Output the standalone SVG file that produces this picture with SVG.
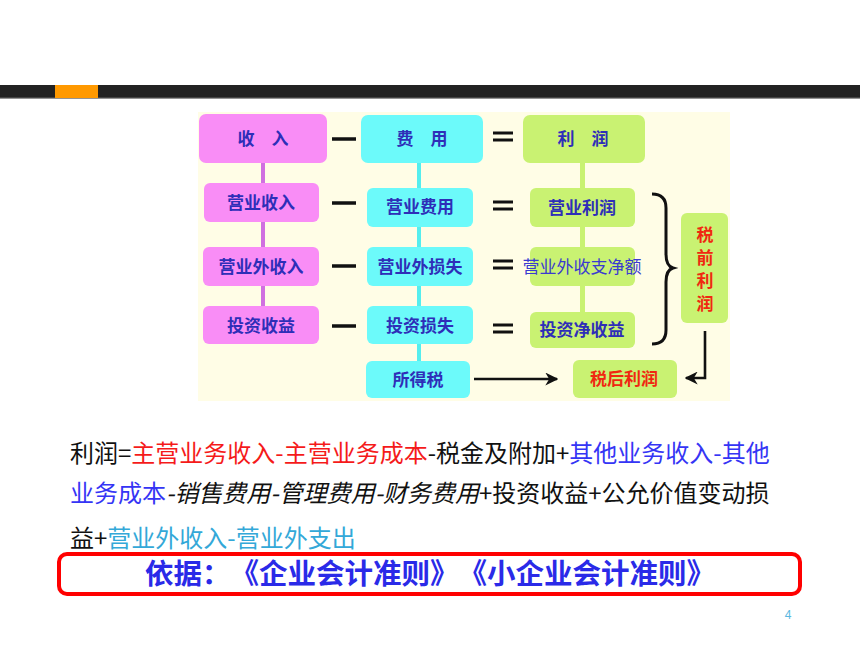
<svg xmlns="http://www.w3.org/2000/svg" width="860" height="645" viewBox="0 0 860 645">
<style>
.bt{font-family:"Noto Sans CJK SC","Liberation Sans",sans-serif;font-weight:bold;font-size:17px;fill:#2E2EB8;text-anchor:middle}
.pk{fill:#F98DF6}
.cy{fill:#6CFAFA}
.lm{fill:#C9F272}
.op{stroke:#111;stroke-width:3.5;fill:none}
.f{font-family:"Noto Sans CJK SC","Liberation Sans",sans-serif;font-size:24px;fill:#111}
.red{fill:#F51A1A}
.blu{fill:#3535F5}
.cya{fill:#33A8D8}
.basis{font-family:"Noto Sans CJK SC",sans-serif;font-weight:bold;font-size:28.5px;fill:#2A2AE8;text-spacing-trim:space-all}
</style>
<defs>
<marker id="ah" viewBox="0 0 10 10" refX="9" refY="5" markerWidth="5" markerHeight="5" orient="auto" markerUnits="strokeWidth">
<path d="M0,0 L10,5 L0,10 L3,5 Z" fill="#111"/>
</marker>
</defs>
<rect width="860" height="645" fill="#fff"/>
<!-- top bar -->
<rect x="0" y="85" width="860" height="13" fill="#222"/>
<rect x="0" y="97.5" width="860" height="1.2" fill="#666"/>
<rect x="55" y="85" width="43" height="13" fill="#FF9900"/>
<!-- diagram background -->
<rect x="198" y="112" width="532" height="289" fill="#FFFDE6"/>

<g id="connectors">
<rect x="261" y="163" width="4" height="144" fill="#D070E0"/>
<rect x="417" y="163" width="4" height="199" fill="#55EEEE"/>
<rect x="580" y="163" width="5" height="150" fill="#C9F272"/>
<!-- minus signs -->
<line class="op" x1="332" y1="139" x2="356" y2="139"/>
<line class="op" x1="332" y1="203" x2="356" y2="203"/>
<line class="op" x1="332" y1="266" x2="356" y2="266"/>
<line class="op" x1="332" y1="326" x2="356" y2="326"/>
<!-- equals signs -->
<g stroke="#111" stroke-width="3">
<line x1="493" y1="133" x2="513" y2="133"/><line x1="493" y1="140" x2="513" y2="140"/>
<line x1="493" y1="202" x2="513" y2="202"/><line x1="493" y1="209" x2="513" y2="209"/>
<line x1="493" y1="261" x2="513" y2="261"/><line x1="493" y1="268" x2="513" y2="268"/>
<line x1="493" y1="325" x2="513" y2="325"/><line x1="493" y1="332" x2="513" y2="332"/>
</g>
<!-- brace -->
<path d="M652,194 Q666,194 666,208 L666,254 Q666,266 673,268 Q666,270 666,282 L666,330 Q666,344 652,344" fill="none" stroke="#111" stroke-width="3"/>
<!-- arrows -->
<line x1="474" y1="379" x2="557" y2="379" stroke="#111" stroke-width="2.6" marker-end="url(#ah)"/>
<path d="M705,331 L705,378 L686,378" fill="none" stroke="#111" stroke-width="2.6" marker-end="url(#ah)"/>
</g>

<g id="n-shouru"><rect class="pk" x="199" y="114" width="128" height="49" rx="7"/><text class="bt" x="263" y="145">收　入</text></g>
<g id="n-feiyong"><rect class="cy" x="361" y="115" width="122" height="48" rx="7"/><text class="bt" x="422" y="145">费　用</text></g>
<g id="n-lirun"><rect class="lm" x="523" y="115" width="122" height="48" rx="7"/><text class="bt" x="583" y="145">利　润</text></g>

<g id="n-yysr"><rect class="pk" x="204" y="183" width="115" height="39" rx="6"/><text class="bt" x="261" y="209">营业收入</text></g>
<g id="n-yyfy"><rect class="cy" x="367" y="188" width="106" height="39" rx="6"/><text class="bt" x="420" y="213">营业费用</text></g>
<g id="n-yylr"><rect class="lm" x="530" y="188" width="105" height="39" rx="6"/><text class="bt" x="582" y="214">营业利润</text></g>

<g id="n-yywsr"><rect class="pk" x="203" y="247" width="116" height="39" rx="6"/><text class="bt" x="261" y="273">营业外收入</text></g>
<g id="n-yywss"><rect class="cy" x="367" y="247" width="106" height="39" rx="6"/><text class="bt" x="420" y="273">营业外损失</text></g>
<g id="n-yywszje"><rect class="lm" x="530" y="247" width="105" height="39" rx="6"/><text x="582" y="273" style="font-family:'Noto Sans CJK SC',sans-serif;font-size:17px;fill:#3A3AD0;text-anchor:middle">营业外收支净额</text></g>

<g id="n-tzsy"><rect class="pk" x="203" y="306" width="116" height="38" rx="6"/><text class="bt" x="261" y="332">投资收益</text></g>
<g id="n-tzss"><rect class="cy" x="367" y="306" width="106" height="38" rx="6"/><text class="bt" x="420" y="332">投资损失</text></g>
<g id="n-tzjsy"><rect class="lm" x="530" y="312" width="105" height="36" rx="6"/><text class="bt" x="582" y="336">投资净收益</text></g>

<g id="n-sds"><rect class="cy" x="366" y="361" width="104" height="37" rx="6"/><text class="bt" x="418" y="386">所得税</text></g>
<g id="n-shlr"><rect class="lm" x="573" y="360" width="104" height="38" rx="6"/><text class="bt" x="624" y="385" style="fill:#F02810">税后利润</text></g>

<g id="n-sqlr"><rect class="lm" x="681" y="213" width="47" height="110" rx="6"/>
<text class="bt" x="705" style="fill:#F02810"><tspan x="705" y="241">税</tspan><tspan x="705" y="264">前</tspan><tspan x="705" y="287">利</tspan><tspan x="705" y="310">润</tspan></text></g>

<!-- formula text -->
<text class="f" x="70" y="462">利润=<tspan class="red">主营业务收入-主营业务成本</tspan>-税金及附加+<tspan class="blu">其他业务收入-其他</tspan></text>
<text class="f" x="70" y="502"><tspan class="blu">业务成本</tspan><tspan font-style="italic">-销售费用-管理费用-财务费用</tspan>+投资收益+公允价值变动损</text>
<text class="f" x="70" y="547">益+<tspan class="cya">营业外收入-营业外支出</tspan></text>

<!-- basis box -->
<rect x="59" y="554" width="741" height="40" rx="8" fill="none" stroke="#F00" stroke-width="4"/>
<text class="basis" x="145" y="584">依据：《企业会计准则》《小企业会计准则》</text>

<text x="788" y="619" style="font-family:'Liberation Sans',sans-serif;font-size:12px;fill:#5BB8E0;text-anchor:middle">4</text>
</svg>
